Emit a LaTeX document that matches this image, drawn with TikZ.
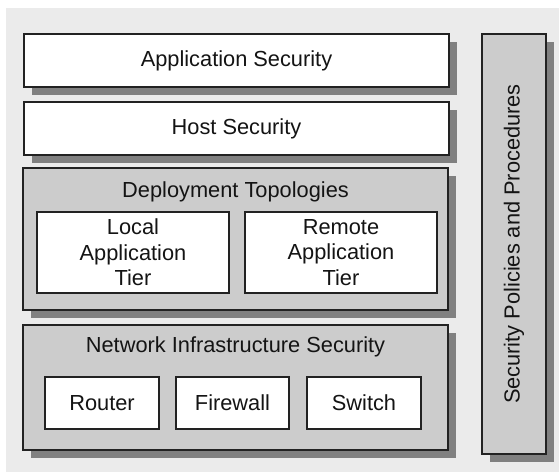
\documentclass[tikz,border=0pt]{standalone}
\usepackage{fontspec}
\setmainfont{Liberation Sans}
\usetikzlibrary{shadows}
\definecolor{bggray}{HTML}{EBEBEB}
\definecolor{boxgray}{HTML}{CCCCCC}
\definecolor{shadegray}{HTML}{808080}
\definecolor{edgegray}{HTML}{222222}
\begin{document}
\begin{tikzpicture}[x=0.5pt, y=-0.5pt,
		every node/.style={font=\fontsize{10.9}{12.8}\selectfont, text=black!92},
		layer/.style={draw=edgegray, line width=0.65pt, fill=white, minimum width=212.5pt, minimum height=26.5pt, inner sep=0pt,
			drop shadow={shadow xshift=4pt, shadow yshift=-4pt, fill=shadegray, opacity=1}},
		grouplayer/.style={layer, fill=boxgray},
		part/.style={draw=edgegray, line width=0.65pt, fill=white, inner sep=0pt, align=center}]
		\useasboundingbox (0,0) rectangle (559,472);
		\fill[bggray] (6,8) rectangle (559,472);
		% stacked layers
		\node[layer] (appsec) at (236.5,60.5) {Application Security};
		\node[layer] (hostsec) at (236.5,128.5) {Host Security};
		\node[grouplayer, minimum height=71pt] (deploy) at (235.5,239) {};
		\node (deploytitle) at (235.5,192) {Deployment Topologies};
		\node[part, minimum width=96pt, minimum height=40.5pt] (localtier) at (133,252.5) {Local\\Application\\Tier};
		\node[part, minimum width=96pt, minimum height=40.5pt] (remotetier) at (341,252.5) {Remote\\Application\\Tier};
		\node[grouplayer, minimum height=62.5pt] (netinfra) at (235.5,387.5) {};
		\node (netinfratitle) at (235.5,347) {Network Infrastructure Security};
		\node[part, minimum width=57pt, minimum height=26pt] (router) at (102,403) {Router};
		\node[part, minimum width=56.5pt, minimum height=26pt] (firewall) at (232.5,403) {Firewall};
		\node[part, minimum width=57pt, minimum height=26pt] (switch) at (364,403) {Switch};
		% side bar
		\node[grouplayer, minimum width=32pt, minimum height=210pt] (policies) at (514,244) {};
		\node[rotate=90] (policiestext) at (policies.center) {Security Policies and Procedures};
\end{tikzpicture}
\end{document}
